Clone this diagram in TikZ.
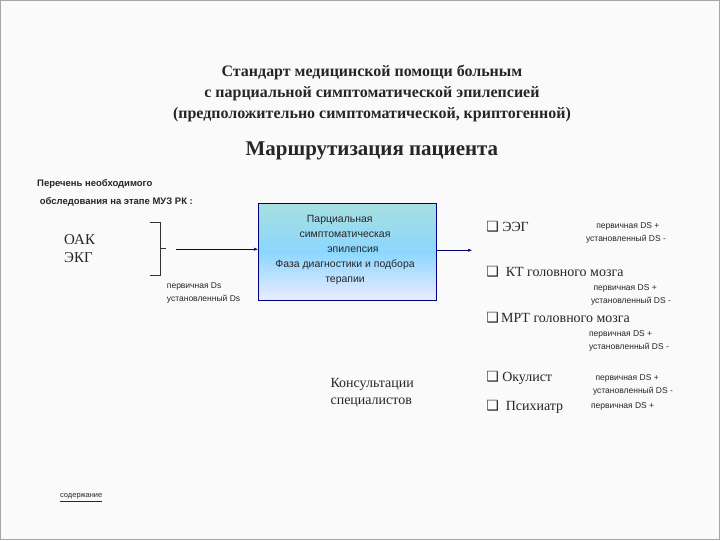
\documentclass[tikz,border=0pt]{standalone}
\usepackage{fontspec}
\setmainfont{Liberation Serif}
\newfontfamily\sans{Liberation Sans}
\newfontfamily\djfont{DejaVu Sans}
\usetikzlibrary{arrows.meta}
\begin{document}
\begin{tikzpicture}[x=1pt,y=-1pt,
  ttl/.style={font=\bfseries\fontsize{16}{21}\selectfont, text=black!85, align=center},
  big/.style={font=\fontsize{15}{18}\selectfont, text=black!85, anchor=west},
  sm/.style={font=\sans\fontsize{8.5}{13}\selectfont, text=black!85, anchor=west, align=left},
  chk/.style={font=\fontsize{14}{16}\selectfont, text=black!85, anchor=west},
  con/.style={draw=blue!40!black, -{Stealth[length=4pt]}}]
\fill[gray!4] (0,0) rectangle (720,540);
\draw[gray!70, line width=1.5pt] (0,0) rectangle (720,540);
\node[ttl] (t) at (372,93) {Стандарт медицинской помощи больным\\с парциальной симптоматической эпилепсией\\(предположительно симптоматической, криптогенной)};
\node[font=\bfseries\fontsize{21}{24}\selectfont, text=black!85] (h) at (372,150) {Маршрутизация пациента};
\node[font=\sans\bfseries\fontsize{9.5}{18}\selectfont, align=left, anchor=north west, text=black!85] (p) at (33,176) {Перечень необходимого\\\ обследования на этапе МУЗ РК :};
\node[big, align=left] (oak) at (60,248) {ОАК\\ЭКГ};
\draw[black!80] (150,222) -- (160,222) -- (160,275) -- (150,275);
\draw[black!80] (160,248) -- (166,248);
\coordinate (a0) at (176,249);
\draw[black!80, line width=1.2pt] (a0) -- (187,249);
\node[sm] (ds1) at (163,293) {первичная Ds\\установленный Ds};
\shade[top color=cyan!30!teal!35, bottom color=blue!8!white, middle color=blue!35!cyan!45] (258,203) rectangle (437,300);
\node[draw=blue!50!black, line width=1pt, minimum width=179pt, minimum height=97pt, inner sep=0pt] (box) at (347.5,251.5) {};
\node[font=\sans\fontsize{10.5}{15}\selectfont, align=center, text=black!85] at (345,250) {\hspace*{-1em}Парциальная\\симптоматическая\\\hspace*{1.5em}эпилепсия\\Фаза диагностики и подбора\\терапии};
\draw[con] (a0) -- (box.west |- a0);
\coordinate (e) at (472,250);
\draw[con] (box.east |- e) -- (e);
\node[chk] (c1) at (483,226) {{\djfont ❑}\ ЭЭГ};
\node[sm] at (583,233) {\hspace*{1.2em}первичная DS +\\установленный DS -};
\node[chk] (c2) at (483,272) {{\djfont ❑}\ \ КТ головного мозга};
\node[sm] at (588,295) {\hspace*{0.3em}первичная DS +\\установленный DS -};
\node[chk] (c3) at (483,318) {{\djfont ❑}\,МРТ головного мозга};
\node[sm] at (586,341) {первичная DS +\\установленный DS -};
\node[font=\fontsize{14}{17}\selectfont, align=left, anchor=west, text=black!85] (k) at (327,393) {Консультации\\специалистов};
\node[chk] (c4) at (483,378) {{\djfont ❑}\ Окулист};
\node[sm] at (590,385) {\hspace*{0.3em}первичная DS +\\установленный DS -};
\node[chk] (c5) at (483,407) {{\djfont ❑}\ \ Психиатр};
\node[sm] at (588,407) {первичная DS +};
\node[font=\sans\fontsize{7.5}{8}\selectfont, anchor=west, text=black!85] (s) at (56,498) {\underline{содержание}};
\end{tikzpicture}
\end{document}
